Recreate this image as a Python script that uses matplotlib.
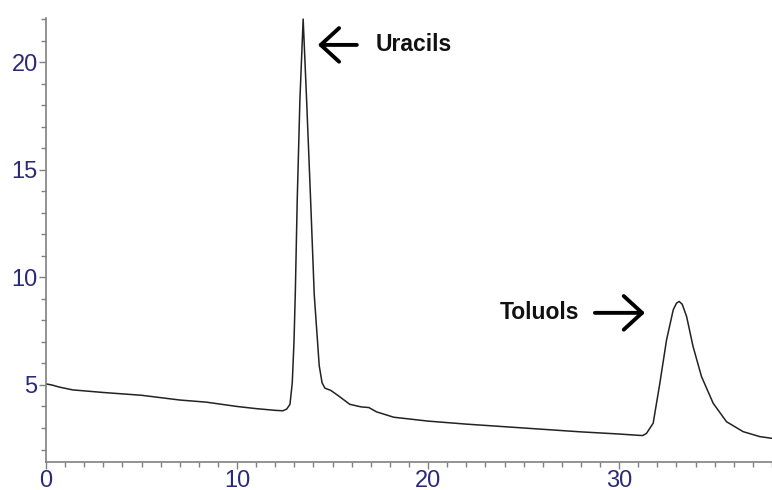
import matplotlib
matplotlib.use("Agg")
import matplotlib.pyplot as plt
from matplotlib.ticker import MultipleLocator

# retention time (min) and detector signal of the chromatogram trace
retention_time = [
  0.0, 0.3, 0.7, 1.4, 3.0, 5.0, 7.0, 8.4, 10.0, 11.0, 12.0, 12.4, 12.6,
  12.77, 12.89, 12.98, 13.05, 13.15, 13.29, 13.46, 13.64, 13.85, 14.04,
  14.30, 14.45, 14.6, 14.9, 15.3, 15.9, 16.5, 16.9, 17.3, 18.2, 20.0, 22.0,
  25.0, 28.0, 30.0, 31.0, 31.24, 31.43, 31.78, 32.13, 32.48, 32.83, 33.0,
  33.14, 33.3, 33.53, 33.87, 34.31, 34.92, 35.62, 36.49, 37.36, 38.0
]
signal = [
  5.05, 5.0, 4.9, 4.77, 4.65, 4.52, 4.30, 4.20, 4.0, 3.9, 3.82, 3.80, 3.88,
  4.1, 5.1, 7.0, 9.3, 13.6, 18.25, 22.0, 18.25, 13.6, 9.2,
  5.9, 5.1, 4.85, 4.75, 4.5, 4.1, 3.98, 3.95, 3.75, 3.5, 3.32, 3.18,
  3.0, 2.82, 2.72, 2.66, 2.65, 2.75, 3.22, 5.08, 7.09, 8.49, 8.8,
  8.88, 8.75, 8.18, 6.78, 5.39, 4.15, 3.29, 2.83, 2.60, 2.52
]

# peak labels: (text x, text y) and arrow (tail x, head x)
peak_labels = ["Uracils", "Toluols"]
label_pos = [(17.27, 20.8), (23.76, 8.35)]
arrow_span = [(16.27, 14.23), (28.73, 31.35)]

TICK_COLOR = "#2b2a7a"
AXIS_COLOR = "#808080"


def plot_chromatogram(out_name):
  fig = plt.figure(figsize=(7.72, 4.9), dpi=100, facecolor="w")
  ax = fig.add_axes([46 / 772, 28 / 490, 726 / 772, 444 / 490])

  ax.plot(retention_time, signal, color="#222222", linewidth=1.1)

  ax.set_xlim(0, 38)
  ax.set_ylim(1.42, 22.05)

  ax.xaxis.set_major_locator(MultipleLocator(10))
  ax.xaxis.set_minor_locator(MultipleLocator(1))
  ax.yaxis.set_major_locator(MultipleLocator(5))
  ax.yaxis.set_minor_locator(MultipleLocator(1))

  for side in ["top", "right"]:
    ax.spines[side].set_visible(False)
  for side in ["left", "bottom"]:
    ax.spines[side].set_color(AXIS_COLOR)
    ax.spines[side].set_linewidth(1.2)

  ax.tick_params(which="major", length=5, width=1, color=AXIS_COLOR,
                 labelcolor=TICK_COLOR, labelsize=17, pad=1)
  ax.tick_params(which="minor", length=3.5, width=1, color=AXIS_COLOR)
  for lbl in ax.get_xticklabels() + ax.get_yticklabels():
    lbl.set_family("Liberation Sans")

  for text, (tx, ty), (x0, x1) in zip(peak_labels, label_pos, arrow_span):
    ax.annotate("", xy=(x1, ty), xytext=(x0, ty),
                arrowprops=dict(arrowstyle="->,head_length=0.6,head_width=0.55",
                                color="black", lw=2.8, mutation_scale=22,
                                shrinkA=0, shrinkB=0))
    ax.text(tx, ty, text, fontsize=16.5, fontweight="bold", family="Liberation Sans",
            ha="left", va="center", color="#111111")

  fig.savefig(out_name, dpi=100)
  plt.close(fig)


def main():
  plot_chromatogram("out.png")


if __name__ == "__main__":
  main()
